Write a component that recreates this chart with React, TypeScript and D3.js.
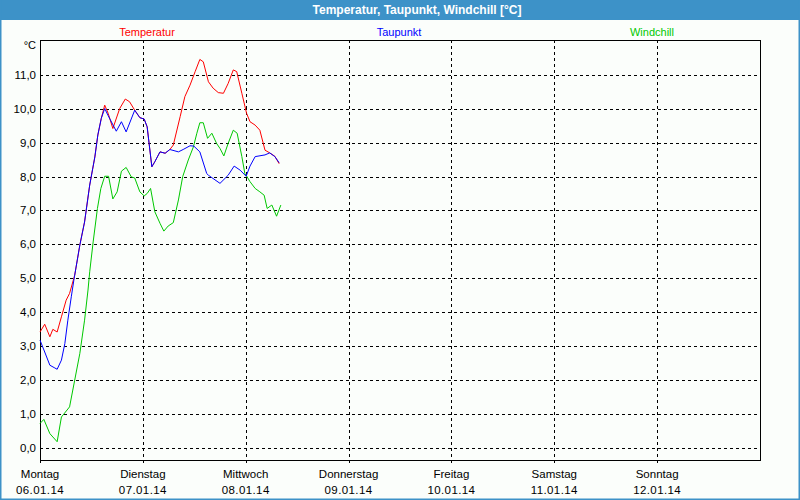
import React from "react";
import * as d3 from "d3";

const dayNames = ["Montag", "Dienstag", "Mittwoch", "Donnerstag", "Freitag", "Samstag", "Sonntag"];
const dayDates = ["06.01.14", "07.01.14", "08.01.14", "09.01.14", "10.01.14", "11.01.14", "12.01.14"];
const yTicks = [0, 1, 2, 3, 4, 5, 6, 7, 8, 9, 10, 11];
const seriesNames = ["Temperatur", "Taupunkt", "Windchill"];

// hours since Monday 00:00
const tempHours = [0, 1.1, 2.3, 3.0, 4.0, 5.0, 6.1, 6.9, 8.1, 9.3, 10.4, 11.6, 12.8, 13.5, 14.3, 15.1, 15.9, 17.0, 18.6, 19.9, 20.9, 22.1, 23.3, 24.3, 25.0, 26.1, 26.8, 28.0, 29.2, 30.3, 31.1, 32.7, 33.8, 35.0, 36.2, 37.3, 38.1, 39.3, 40.4, 41.6, 42.8, 43.9, 45.1, 45.9, 47.1, 48.2, 49.0, 50.2, 51.3, 52.5, 53.6, 54.8, 55.8];
const tempValues = [3.41, 3.64, 3.27, 3.49, 3.41, 3.86, 4.35, 4.55, 5.09, 5.98, 6.66, 7.75, 8.58, 9.23, 9.72, 10.11, 9.87, 9.42, 10.01, 10.29, 10.21, 9.96, 9.74, 9.70, 9.47, 8.29, 8.44, 8.73, 8.69, 8.80, 8.93, 9.77, 10.36, 10.70, 11.10, 11.46, 11.39, 10.80, 10.61, 10.48, 10.46, 10.75, 11.15, 11.10, 10.46, 9.87, 9.62, 9.52, 9.37, 8.78, 8.70, 8.60, 8.38];

const dewHours = [0, 1.1, 2.3, 3.3, 4.0, 5.0, 5.8, 6.5, 7.3, 7.9, 8.1, 9.3, 10.4, 11.6, 12.8, 13.5, 14.3, 15.1, 15.9, 17.8, 19.0, 20.1, 22.1, 23.3, 24.3, 25.0, 26.1, 26.8, 28.0, 29.2, 30.3, 32.3, 33.4, 35.0, 35.9, 37.3, 38.9, 39.3, 42.0, 43.9, 45.3, 46.7, 48.1, 49.0, 50.2, 52.5, 53.6, 54.8, 55.8];
const dewValues = [3.17, 2.82, 2.43, 2.36, 2.31, 2.58, 3.07, 3.76, 4.45, 4.94, 5.09, 5.98, 6.66, 7.75, 8.58, 9.23, 9.72, 10.01, 9.80, 9.34, 9.62, 9.32, 9.96, 9.74, 9.70, 9.47, 8.29, 8.44, 8.73, 8.69, 8.80, 8.73, 8.80, 8.91, 8.90, 8.73, 8.09, 8.04, 7.80, 8.04, 8.31, 8.19, 8.01, 8.31, 8.59, 8.64, 8.70, 8.59, 8.41];

const chillHours = [0, 0.9, 2.3, 4.0, 5.0, 6.9, 8.1, 9.3, 10.4, 11.2, 11.6, 12.4, 13.4, 14.2, 15.1, 16.0, 17.0, 18.0, 19.0, 20.1, 21.3, 22.1, 23.3, 24.3, 25.0, 25.8, 26.8, 28.0, 28.9, 29.9, 31.1, 32.3, 33.3, 34.6, 35.8, 36.6, 37.3, 38.1, 39.1, 40.1, 41.2, 42.0, 42.9, 43.9, 45.1, 46.0, 47.1, 47.8, 48.1, 49.0, 50.2, 51.3, 52.3, 53.0, 54.1, 55.2, 56.2];
const chillValues = [0.71, 0.83, 0.41, 0.17, 0.90, 1.20, 1.99, 2.78, 3.76, 4.65, 5.19, 6.07, 7.06, 7.65, 8.01, 8.01, 7.34, 7.55, 8.16, 8.27, 7.99, 7.96, 7.55, 7.43, 7.50, 7.65, 6.96, 6.62, 6.39, 6.54, 6.64, 7.31, 8.00, 8.49, 8.88, 9.28, 9.59, 9.59, 9.13, 9.28, 8.98, 8.83, 8.61, 8.98, 9.37, 9.28, 8.59, 8.09, 8.04, 7.85, 7.65, 7.55, 7.45, 7.06, 7.16, 6.83, 7.16];

const W = 800;
const H = 500;
const left = 40;
const right = 760;
const top = 40;
const bottom = 460;
const font = "'Liberation Sans', Arial, sans-serif";
const bg = "#fbfefb";
const frameBlue = "#3d92c8";

export default function App() {
  const x = d3.scaleLinear().domain([0, 168]).range([left, right]);
  const y = d3.scaleLinear().domain([0, 11]).range([447.5, 75]);
  const line = (hs: number[], vs: number[]) =>
    d3.line<number>().x((_, i) => x(hs[i])).y((v) => y(v))(vs) || "";
  const px = (v: number) => Math.round(v) + 0.5;

  const series = [
    { name: seriesNames[0], color: "#ff0000", hs: tempHours, vs: tempValues, lx: 147 },
    { name: seriesNames[2], color: "#00c800", hs: chillHours, vs: chillValues, lx: 652 },
    { name: seriesNames[1], color: "#0000ff", hs: dewHours, vs: dewValues, lx: 399 },
  ];

  return (
    <svg width={W} height={H} style={{ position: "absolute", left: 0, top: 0, display: "block" }}>
      <rect x={0} y={0} width={W} height={H} fill={bg} />
      <rect x={0} y={0} width={W} height={20} fill={frameBlue} />
      <rect x={0} y={0} width={1.5} height={H} fill={frameBlue} />
      <rect x={W - 1.5} y={0} width={1.5} height={H} fill={frameBlue} />
      <rect x={0} y={H - 1.5} width={W} height={1.5} fill={frameBlue} />
      <text x={417} y={14} textAnchor="middle" fill="#ffffff" fontFamily={font} fontWeight="bold" fontSize={12}>
        Temperatur, Taupunkt, Windchill [°C]
      </text>

      {series.map((s) => (
        <text key={"l" + s.name} x={s.lx} y={36} textAnchor="middle" fill={s.color} fontFamily={font} fontSize={11}>
          {s.name}
        </text>
      ))}

      {yTicks.map((t) => (
        <g key={"y" + t}>
          <line x1={left} x2={right} y1={px(y(t))} y2={px(y(t))} stroke="#000" strokeDasharray="3,3" shapeRendering="crispEdges" />
          <text x={36} y={y(t) + 4} textAnchor="end" fontFamily={font} fontSize={11.5} fill="#000">
            {t.toFixed(1).replace(".", ",")}
          </text>
        </g>
      ))}
      <text x={36} y={49} textAnchor="end" fontFamily={font} fontSize={11} fill="#000">°C</text>

      {dayNames.map((d, i) => (
        <g key={"d" + i}>
          {i > 0 && (
            <line x1={px(x(i * 24))} x2={px(x(i * 24))} y1={top} y2={bottom + 3} stroke="#000" strokeDasharray="3,3" shapeRendering="crispEdges" />
          )}
          <line x1={px(x(i * 24))} x2={px(x(i * 24))} y1={bottom} y2={bottom + 3} stroke="#000" shapeRendering="crispEdges" />
          <text x={x(i * 24)} y={478} textAnchor="middle" fontFamily={font} fontSize={11.5} fill="#000">{d}</text>
          <text x={x(i * 24)} y={494} textAnchor="middle" fontFamily={font} fontSize={11.5} fill="#000" letterSpacing={0.4}>{dayDates[i]}</text>
        </g>
      ))}

      <rect x={left + 0.5} y={top + 0.5} width={right - left} height={bottom - top} fill="none" stroke="#000" shapeRendering="crispEdges" />

      {series.map((s) => (
        <path key={"p" + s.name} d={line(s.hs, s.vs)} fill="none" stroke={s.color} strokeWidth={1} />
      ))}
    </svg>
  );
}
